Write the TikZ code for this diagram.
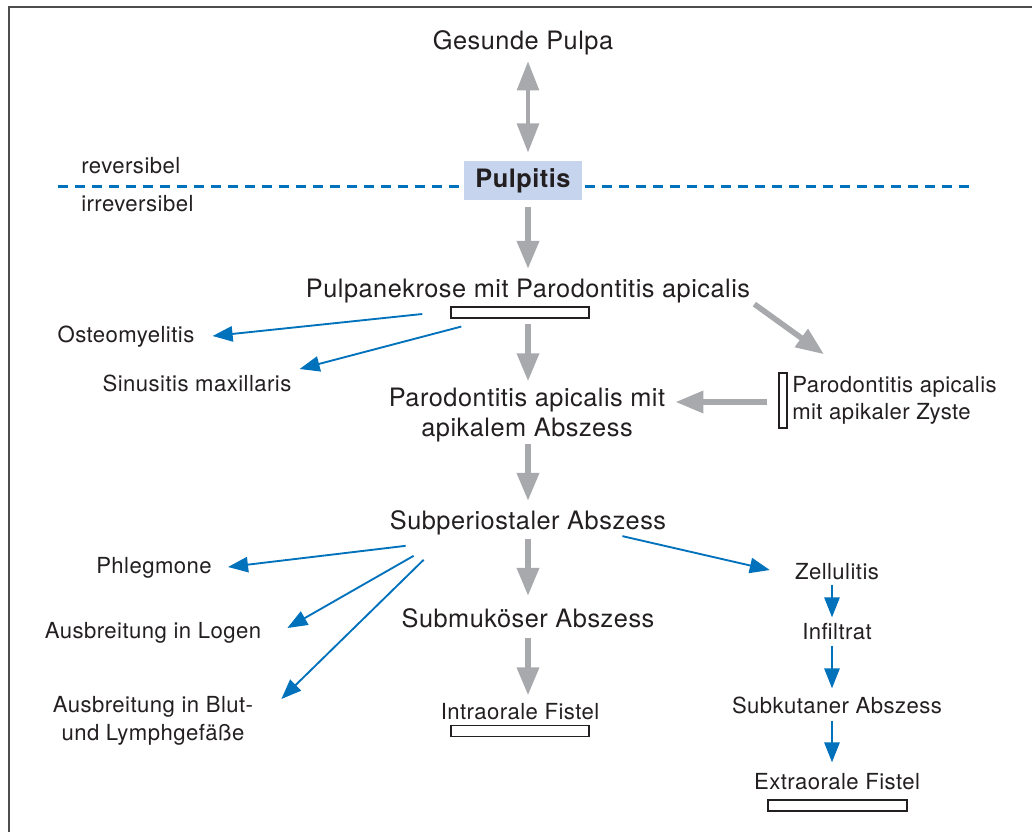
\documentclass[tikz,border=0pt]{standalone}
\usepackage{fontspec}
\setmainfont[LetterSpace=2]{TeX Gyre Heros}
\usetikzlibrary{arrows.meta,calc}
\definecolor{txtc}{HTML}{231F20}
\definecolor{grayarr}{HTML}{A7A9AC}
\definecolor{bluearr}{HTML}{0072BC}
\definecolor{boxfill}{HTML}{C6D4EE}
\definecolor{framec}{HTML}{4D4D4D}
\begin{document}
\begin{tikzpicture}[x=0.75pt,y=-0.75pt,
  big/.style={font=\fontsize{19pt}{23pt}\selectfont, text=txtc, inner sep=0pt, text height=13.6pt, text depth=4.2pt},
  bigml/.style={font=\fontsize{19pt}{23.2pt}\selectfont, text=txtc, inner sep=0pt, align=center},
  small/.style={font=\fontsize{16.6pt}{20pt}\selectfont, text=txtc, inner sep=0pt, text height=12pt, text depth=3.6pt},
  smallml/.style={font=\fontsize{16.6pt}{20.5pt}\selectfont, text=txtc, inner sep=0pt},
  barbox/.style={draw=txtc, line width=1.1pt, fill=white, inner sep=0pt, minimum width=103.5pt, minimum height=8pt},
  pulpbox/.style={fill=boxfill, inner sep=0pt, minimum width=88.5pt, minimum height=29.25pt, text height=13.6pt, text depth=2.8pt, text=txtc, font=\fontsize{19pt}{23pt}\selectfont\bfseries},
  garrow/.style={draw=grayarr, line width=4.2pt, -{Triangle[length=21pt,width=16pt]}},
  gdouble/.style={draw=grayarr, line width=3.6pt, {Triangle[length=22pt,width=16pt]}-{Triangle[length=22pt,width=16pt]}},
  barrow/.style={draw=bluearr, line width=1.4pt, -{Triangle[length=15pt,width=11.5pt]}},
  divider/.style={draw=bluearr, line width=2.25pt, dash pattern=on 7.5pt off 5.25pt},
]
\useasboundingbox (0,0) rectangle (1032,832);
% frame
\draw[framec, line width=1.5pt] (9,832) -- (9,7) -- (1032,7);
% divider line
\coordinate (dl) at (58,186);
\coordinate (dr) at (970,186);
\draw[divider] (dl) -- (dr);

% nodes
\node[big] (gp) at (523,43.5) {Gesunde Pulpa};
\node[pulpbox] (pul) at (523,180.5) {Pulpitis};
\node[small, anchor=west] (rev) at (81,168) {reversibel};
\node[small, anchor=west] (irr) at (81,206) {irreversibel};
\node[big] (pn) at (528,291) {Pulpanekrose mit Parodontitis apicalis};
\node[barbox] (pnbar) at (520,312.5) {};
\node[small] (osteo) at (126,337) {Osteomyelitis};
\node[small] (sinus) at (197,386) {Sinusitis maxillaris};
\node[bigml] (pa) at (527,415) {Parodontitis apicalis mit\\apikalem Abszess};
\node[barbox, minimum width=6pt, minimum height=41.25pt] (zbar) at (783,400.5) {};
\node[smallml, anchor=west, align=left] (zy) at (792,400.5) {Parodontitis apicalis\\mit apikaler Zyste};
\node[big] (sub) at (528,523) {Subperiostaler Abszess};
\node[small] (phleg) at (154,568) {Phlegmone};
\node[small] (logen) at (153,633) {Ausbreitung in Logen};
\node[smallml, align=center] (blut) at (153,721) {Ausbreitung in Blut-\\und Lymphgefäße};
\node[big] (smk) at (528,621) {Submuköser Abszess};
\node[small] (intra) at (520,714) {Intraorale Fistel};
\node[barbox] (intrabar) at (520,731) {};
\node[small] (zell) at (837,574) {Zellulitis};
\node[small] (infil) at (837,634) {Infiltrat};
\node[small] (subk) at (837,708) {Subkutaner Abszess};
\node[small] (extra) at (837,784) {Extraorale Fistel};
\node[barbox, minimum width=104.25pt] (extrabar) at (837.5,805.5) {};

% gray arrows
\draw[gdouble] ($(gp.south)+(5,5.5)$) -- ($(pul.north)+(5,-8)$);
\draw[garrow] ($(pul.south)+(5,7)$) -- ($(pn.north)+(0,-10)$);
\draw[garrow] ($(pn.south)+(0,21)$) -- ($(pa.north)+(1,-6)$);
\draw[garrow] ($(pa.south)+(1,1)$) -- ($(sub.north)+(0,-10)$);
\draw[garrow] ($(sub.south)+(0,4)$) -- ($(smk.north)+(0,-13)$);
\draw[garrow] ($(smk.south)+(0,5)$) -- ($(intra.north)+(8,-8)$);
\draw[garrow] ($(pn.south east)+(4,1)$) -- ($(zbar.north)+(41,-18)$);
\draw[garrow] ($(zbar.west)+(-11,1.5)$) -- ($(zbar.west -| pa.east)+(10,1.5)$);

% blue arrows
\draw[barrow] ($(pnbar.west)+(-28,1.5)$) -- ($(osteo.east)+(18,-1)$);
\draw[barrow] ($(pnbar.south west)+(11,8)$) -- ($(sinus.east)+(8,-17)$);
\draw[barrow] ($(sub.south west)+(16,10.7)$) -- ($(phleg.east)+(16,-1)$);
\draw[barrow] ($(sub.south west)+(24,20.7)$) -- ($(logen.east)+(26,-5)$);
\draw[barrow] ($(sub.south west)+(34,24.7)$) -- ($(blut.east)+(28,-22)$);
\draw[barrow] ($(sub.south east)+(-44,1)$) -- ($(zell.west)+(-25,-4)$);
\draw[barrow] ($(zell.south)+(-5,0)$) -- ($(infil.north)+(-5,-6)$);
\draw[barrow] ($(infil.south)+(-5,1)$) -- ($(subk.north)+(-5,-9)$);
\draw[barrow] ($(subk.south)+(-5,2)$) -- ($(extra.north)+(-5,-11)$);
\end{tikzpicture}
\end{document}
